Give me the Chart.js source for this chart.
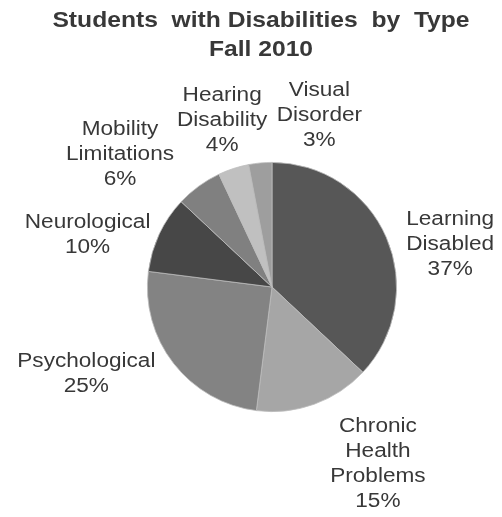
<!DOCTYPE html>
<html>
<head>
<meta charset="utf-8">
<script src="https://cdn.jsdelivr.net/npm/chart.js@4"></script>
<style>
html,body{margin:0;padding:0;background:#fff;}
#wrap{width:502px;height:517px;position:relative;}
</style>
</head>
<body>
<div id="wrap"><canvas id="c" width="502" height="517"></canvas></div>
<script>
const titleLines = ["Students  with Disabilities  by  Type", "Fall 2010"];
const categories = ["Learning\nDisabled", "Chronic\nHealth\nProblems", "Psychological", "Neurological", "Mobility\nLimitations", "Hearing\nDisability", "Visual\nDisorder"];
const percents = [37, 15, 25, 10, 6, 4, 3];
const sliceColors = ["#575757", "#a6a6a6", "#838383", "#474747", "#808080", "#c0c0c0", "#9e9e9e"];
// label block centers relative to pie centre, in units of the radius
const labelOffsets = [[1.43, -0.34], [0.85, 1.42], [-1.49, 0.70], [-1.48, -0.42], [-1.22, -1.06], [-0.40, -1.34], [0.38, -1.38]];

const labelPlugin = {
  id: 'sliceLabels',
  afterDraw(chart) {
    const ctx = chart.ctx;
    const meta = chart.getDatasetMeta(0);
    ctx.save();
    ctx.fillStyle = '#383838';
    ctx.textAlign = 'center';
    ctx.textBaseline = 'middle';
    // title
    ctx.font = 'bold 22px "Liberation Sans", Arial, sans-serif';
    const tx = 261;
    [21, 50].forEach((y, i) => {
      ctx.save();
      ctx.translate(tx, y);
      ctx.scale(1.12, 1);
      ctx.fillText(titleLines[i], 0, 0);
      ctx.restore();
    });
    ctx.font = '20px "Liberation Sans", Arial, sans-serif';
    const lh = 25;
    meta.data.forEach((arc, i) => {
      const lines = categories[i].split('\n').concat([percents[i] + '%']);
      const r = arc.outerRadius;
      const cx = arc.x + labelOffsets[i][0] * r;
      const cy = arc.y + labelOffsets[i][1] * r;
      const y0 = cy - (lines.length - 1) * lh / 2;
      lines.forEach((t, j) => {
        ctx.save();
        ctx.translate(cx, y0 + j * lh);
        ctx.scale(1.13, 1);
        ctx.fillText(t, 0, 0);
        ctx.restore();
      });
    });
    ctx.restore();
  }
};

new Chart(document.getElementById('c'), {
  type: 'pie',
  data: {
    labels: categories.map(s => s.replace(/\n/g, ' ')),
    datasets: [{
      data: percents,
      backgroundColor: sliceColors,
      borderColor: '#bdbdbd',
      borderWidth: 0.8
    }]
  },
  options: {
    responsive: false,
    animation: false,
    layout: { padding: { left: 147, right: 105, top: 162, bottom: 105 } },
    plugins: { legend: { display: false }, tooltip: { enabled: false }, title: { display: false } }
  },
  plugins: [labelPlugin]
});
</script>
</body>
</html>
